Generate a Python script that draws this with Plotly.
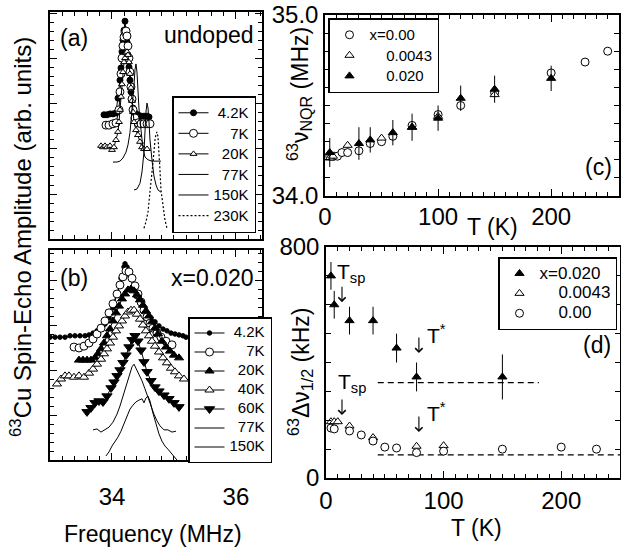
import plotly.graph_objects as go

W, H = 621, 549
FONT = "Liberation Sans, Arial, sans-serif"
NB = "\u00a0"

# ---------------- (a) undoped: 63Cu NQR spectra (frequency MHz, amplitude arb.) ----------------
a42_f = [33.871, 33.919, 33.968, 34.016, 34.065, 34.097, 34.129, 34.145, 34.161, 34.177, 34.194, 34.210, 34.226,
         34.242, 34.258, 34.274, 34.290, 34.306, 34.323, 34.339, 34.371, 34.419, 34.468, 34.516, 34.565, 34.597]
a42_a = [2.76, 2.76, 2.78, 2.78, 2.80, 3.13, 3.53, 3.80, 4.16, 4.42, 4.64, 4.84, 4.64,
         4.38, 4.09, 3.82, 3.53, 3.27, 3.09, 2.91, 2.80, 2.76, 2.73, 2.73, 2.73, 2.71]

a7_f = [33.903, 33.952, 34.016, 34.065, 34.113, 34.129, 34.145, 34.161, 34.177, 34.194, 34.210, 34.226, 34.242,
        34.258, 34.274, 34.290, 34.306, 34.323, 34.339, 34.371, 34.419, 34.468, 34.516, 34.565, 34.613]
a7_a = [2.53, 2.53, 2.56, 2.58, 2.87, 3.27, 3.67, 4.02, 4.29, 4.49, 4.60, 4.62, 4.51,
        4.29, 4.02, 3.71, 3.38, 3.11, 2.87, 2.69, 2.58, 2.56, 2.56, 2.56, 2.56]

a20_f = [33.823, 33.855, 33.887, 33.919, 33.968, 34.000, 34.032, 34.065, 34.097, 34.113, 34.129, 34.145, 34.161,
         34.177, 34.194, 34.210, 34.226, 34.242, 34.258, 34.274, 34.290, 34.306, 34.323, 34.339, 34.355, 34.387,
         34.419, 34.452, 34.484, 34.516, 34.565]
a20_a = [2.07, 2.04, 2.07, 2.04, 2.07, 1.98, 2.04, 2.20, 2.38, 2.60, 2.87, 3.16, 3.44,
         3.71, 3.93, 4.02, 4.13, 4.16, 4.09, 3.93, 3.67, 3.36, 3.07, 2.82, 2.60, 2.42,
         2.31, 2.16, 2.04, 2.00, 2.00]

a77_f = [34.016, 34.081, 34.129, 34.177, 34.226, 34.258, 34.290, 34.323, 34.355, 34.371, 34.387, 34.403, 34.419,
         34.435, 34.468, 34.500, 34.532, 34.581, 34.645, 34.710, 34.790]
a77_a = [1.71, 1.71, 1.73, 1.80, 1.93, 2.09, 2.36, 2.82, 3.42, 3.76, 3.89, 3.71, 3.31,
         2.91, 2.42, 2.02, 1.82, 1.76, 1.73, 1.73, 1.73]

a150_f = [34.355, 34.403, 34.452, 34.484, 34.516, 34.532, 34.548, 34.565, 34.581, 34.597, 34.613, 34.645, 34.677,
          34.710, 34.742, 34.790]
a150_a = [1.09, 1.11, 1.24, 1.49, 1.93, 2.42, 2.82, 3.02, 2.91, 2.60, 2.20, 1.76, 1.40,
          1.20, 1.09, 1.04]

a230_f = [34.516, 34.548, 34.581, 34.597, 34.629, 34.661, 34.677, 34.694, 34.710, 34.726, 34.742, 34.758, 34.774,
          34.790, 34.823, 34.855, 34.887]
a230_a = [0.24, 0.38, 0.60, 0.87, 1.27, 1.69, 1.98, 2.20, 2.33, 2.38, 2.27, 1.98, 1.53,
          1.09, 0.69, 0.42, 0.24]

# ---------------- (b) x = 0.020 spectra ----------------
b42_f = [33.000, 33.081, 33.161, 33.242, 33.323, 33.403, 33.484, 33.565, 33.629, 33.694, 33.758, 33.823, 33.887,
         33.952, 34.016, 34.081, 34.145, 34.194, 34.210, 34.242, 34.290, 34.339, 34.387, 34.435, 34.500, 34.565,
         34.629, 34.694, 34.758, 34.823, 34.887, 34.952, 35.016, 35.081, 35.145, 35.194]
b42_a = [2.73, 2.73, 2.73, 2.73, 2.76, 2.76, 2.76, 2.76, 2.78, 2.82, 2.87, 2.93, 3.02,
         3.16, 3.38, 3.69, 4.04, 4.29, 4.36, 4.29, 4.09, 3.84, 3.64, 3.56, 3.40, 3.27,
         3.16, 3.07, 2.98, 2.91, 2.87, 2.82, 2.80, 2.78, 2.76, 2.73]

b7_f = [33.387, 33.468, 33.548, 33.629, 33.694, 33.758, 33.823, 33.887, 33.952, 34.016, 34.081, 34.129, 34.177,
        34.226, 34.274, 34.323, 34.371, 34.419, 34.468, 34.516, 34.565, 34.613, 34.661, 34.726, 34.790, 34.871,
        34.968]
b7_a = [2.51, 2.49, 2.53, 2.60, 2.69, 2.80, 2.93, 3.09, 3.27, 3.47, 3.69, 3.89, 4.07,
        4.20, 4.18, 4.04, 3.87, 3.69, 3.51, 3.33, 3.18, 3.04, 2.93, 2.82, 2.73, 2.64,
        2.56]

b20_f = [33.468, 33.532, 33.597, 33.661, 33.726, 33.774, 33.823, 33.871, 33.919, 33.968, 34.016, 34.065, 34.113,
         34.161, 34.210, 34.258, 34.306, 34.355, 34.403, 34.452, 34.500, 34.548, 34.597, 34.645, 34.694, 34.742,
         34.806, 34.871, 34.935, 35.000, 35.081]
b20_a = [2.22, 2.22, 2.22, 2.22, 2.27, 2.36, 2.47, 2.60, 2.76, 2.91, 3.09, 3.27, 3.42,
         3.58, 3.69, 3.78, 3.80, 3.76, 3.67, 3.56, 3.44, 3.31, 3.20, 3.07, 2.93, 2.80,
         2.64, 2.51, 2.42, 2.33, 2.27]

b40_f = [33.113, 33.177, 33.242, 33.306, 33.387, 33.468, 33.548, 33.629, 33.694, 33.758, 33.823, 33.871, 33.919,
         33.968, 34.016, 34.065, 34.113, 34.161, 34.210, 34.258, 34.306, 34.355, 34.403, 34.452, 34.500, 34.548,
         34.597, 34.645, 34.694, 34.758, 34.823, 34.887, 34.952, 35.016, 35.081, 35.161]
b40_a = [1.69, 1.80, 1.87, 1.87, 1.84, 1.87, 1.84, 1.93, 2.02, 2.13, 2.24, 2.36, 2.47,
         2.60, 2.73, 2.87, 2.98, 3.09, 3.20, 3.29, 3.33, 3.33, 3.24, 3.13, 3.00, 2.87,
         2.76, 2.64, 2.53, 2.40, 2.27, 2.16, 2.04, 1.96, 1.87, 1.80]

b60_f = [33.597, 33.661, 33.726, 33.790, 33.855, 33.919, 33.984, 34.032, 34.081, 34.129, 34.177, 34.226, 34.274,
         34.323, 34.371, 34.419, 34.468, 34.516, 34.565, 34.629, 34.694, 34.758, 34.839, 34.919, 35.000, 35.081]
b60_a = [1.07, 1.16, 1.27, 1.31, 1.29, 1.42, 1.60, 1.73, 1.87, 2.00, 2.16, 2.33, 2.51,
         2.67, 2.76, 2.64, 2.44, 2.18, 1.96, 1.76, 1.62, 1.53, 1.44, 1.36, 1.27, 1.18]

b77_f = [33.694, 33.758, 33.823, 33.887, 33.952, 34.016, 34.081, 34.129, 34.177, 34.226, 34.274, 34.323, 34.355,
         34.387, 34.435, 34.484, 34.532, 34.581, 34.629, 34.677, 34.726, 34.774, 34.839, 34.903, 34.968, 35.032]
b77_a = [0.67, 0.69, 0.62, 0.67, 0.73, 0.84, 1.02, 1.20, 1.42, 1.67, 1.89, 2.07, 2.13,
         2.04, 1.91, 1.76, 1.58, 1.38, 1.20, 1.02, 0.87, 0.76, 0.67, 0.67, 0.62, 0.64]

b150_f = [33.903, 33.952, 34.000, 34.048, 34.097, 34.145, 34.194, 34.242, 34.290, 34.339, 34.387, 34.435, 34.484,
          34.516, 34.548, 34.581, 34.613, 34.661, 34.710, 34.758, 34.806, 34.855, 34.903, 34.952, 35.000, 35.048]
b150_a = [0.09, 0.18, 0.31, 0.40, 0.51, 0.64, 0.80, 1.00, 1.13, 1.22, 1.29, 1.33, 1.36,
          1.27, 1.38, 1.42, 1.31, 1.04, 0.78, 0.58, 0.42, 0.31, 0.24, 0.16, 0.07, 0.00]

# ---------------- (c) NQR frequency vs T ----------------
c_T_x000 = [4.2, 6, 8, 11, 15, 20, 30, 40, 50, 60, 77, 100, 120, 150, 200, 230, 250]
c_nu_x000 = [34.22, 34.22, 34.22, 34.22, 34.24, 34.24, 34.25, 34.29, 34.30, 34.33, 34.39, 34.45, 34.50,
             34.57, 34.68, 34.74, 34.80]
c_T_x0043 = [4.2, 7, 20, 50, 77, 100, 150]
c_nu_x0043 = [34.21, 34.22, 34.28, 34.32, 34.38, 34.44, 34.56]
c_T_x020 = [4.2, 30, 40, 60, 77, 100, 120, 150, 200]
c_nu_x020 = [34.24, 34.29, 34.31, 34.35, 34.38, 34.43, 34.54, 34.59, 34.65]
c_err_x020 = [0.08, 0.09, 0.07, 0.07, 0.075, 0.07, 0.07, 0.075, 0.07]

# ---------------- (d) NQR linewidth vs T (kHz) ----------------
d_T_x020 = [4.2, 7, 20, 40, 60, 77, 150]
d_w_x020 = [700, 600, 545, 545, 450, 350, 350]
d_err_x020 = [48, 48, 48, 48, 50, 50, 78]
d_T_x0043 = [4.2, 7, 10, 20, 40, 77, 100]
d_w_x0043 = [195, 195, 195, 180, 140, 110, 112]
d_T_x000 = [4.2, 7, 20, 30, 40, 50, 60, 77, 100, 150, 200, 230]
d_w_x000 = [173, 170, 163, 149, 128, 107, 104, 88, 93, 100, 107, 100]
d_err_x000 = [0, 0, 0, 0, 0, 0, 0, 0, 0, 0, 12, 10]

# high-temperature plateau guides in (d): level (kHz) and T span
guide_level = [330, 80]
guide_T_from = [44, 44]
guide_T_to = [181, 250]

# spin-freezing (T_sp) and pseudogap (T*) markers in (d): arrow tip (T, kHz)
tsp_T = [13.6, 13.6]
tsp_tip = [609, 218]
tstar_T = [79, 79]
tstar_tip = [433, 159]


def legend_text(label, pad, size):
    return f'<span style="font-size:{size}px">{NB * pad}{label}</span>'


fig = go.Figure()


def add_spectrum(f, a, label, pad, xa, ya, legend, tsize, symbol=None, msize=6, fill="black",
                 dash="solid", lw=1.0):
    mode = "lines+markers" if symbol else "lines"
    marker = dict(symbol=symbol or "circle", size=msize, color=fill,
                  line=dict(color="black", width=1))
    fig.add_trace(go.Scatter(
        x=f, y=a, mode=mode, name=legend_text(label, pad, tsize), xaxis=xa, yaxis=ya,
        legend=legend, marker=marker, line=dict(color="black", width=lw, dash=dash),
        showlegend=True, hoverinfo="skip"))


LA = 15  # legend text size for the spectra panels
# (a)
add_spectrum(a42_f, a42_a, "4.2K", 1, "x", "y", "legend", LA, "circle", 6, "black")
add_spectrum(a7_f, a7_a, "7K", 4, "x", "y", "legend", LA, "circle", 8, "white")
add_spectrum(a20_f, a20_a, "20K", 2, "x", "y", "legend", LA, "triangle-up", 6, "white")
add_spectrum(a77_f, a77_a, "77K", 2, "x", "y", "legend", LA)
add_spectrum(a150_f, a150_a, "150K", 0, "x", "y", "legend", LA)
add_spectrum(a230_f, a230_a, "230K", 0, "x", "y", "legend", LA, dash="2px,2px", lw=1.2)

# (b)
add_spectrum(b42_f, b42_a, "4.2K", 1, "x2", "y2", "legend2", LA, "circle", 4.5, "black")
add_spectrum(b7_f, b7_a, "7K", 4, "x2", "y2", "legend2", LA, "circle", 8, "white")
add_spectrum(b20_f, b20_a, "20K", 2, "x2", "y2", "legend2", LA, "triangle-up", 8, "black")
add_spectrum(b40_f, b40_a, "40K", 2, "x2", "y2", "legend2", LA, "triangle-up", 8, "white")
add_spectrum(b60_f, b60_a, "60K", 2, "x2", "y2", "legend2", LA, "triangle-down", 9, "black")
add_spectrum(b77_f, b77_a, "77K", 2, "x2", "y2", "legend2", LA)
add_spectrum(b150_f, b150_a, "150K", 0, "x2", "y2", "legend2", LA)


def add_points(T, v, label, pad, xa, ya, legend, tsize, symbol, fill, size=8, err=None):
    fig.add_trace(go.Scatter(
        x=T, y=v, mode="markers", name=legend_text(label, pad, tsize), xaxis=xa, yaxis=ya,
        legend=legend, hoverinfo="skip",
        marker=dict(symbol=symbol, size=size, color=fill, line=dict(color="black", width=1)),
        error_y=(dict(type="data", array=err, visible=True, thickness=1, width=0, color="black")
                 if err is not None else None)))


# (c)
add_points(c_T_x000, c_nu_x000, "x=0.00", 0, "x3", "y3", "legend3", 15, "circle", "white", 8)
add_points(c_T_x0043, c_nu_x0043, "0.0043", 4, "x3", "y3", "legend3", 15, "triangle-up", "white", 8)
add_points(c_T_x020, c_nu_x020, "0.020", 4, "x3", "y3", "legend3", 15, "triangle-up", "black", 8,
           err=c_err_x020)

# (d) guides first so symbols sit on top
for lev, t0, t1 in zip(guide_level, guide_T_from, guide_T_to):
    fig.add_trace(go.Scatter(x=[t0, t1], y=[lev, lev], mode="lines", xaxis="x4", yaxis="y4",
                             showlegend=False, hoverinfo="skip",
                             line=dict(color="black", width=1.2, dash="6px,4px")))
add_points(d_T_x020, d_w_x020, "x=0.020", 0, "x4", "y4", "legend4", 17, "triangle-up", "black", 8,
           err=d_err_x020)
add_points(d_T_x0043, d_w_x0043, "0.0043", 4, "x4", "y4", "legend4", 17, "triangle-up", "white", 8)
add_points(d_T_x000, d_w_x000, "0.00", 4, "x4", "y4", "legend4", 17, "circle", "white", 8,
           err=d_err_x000)


def frame(**kw):
    ax = dict(showline=True, linecolor="black", linewidth=1.5, mirror="allticks",
              ticks="inside", tickcolor="black", tickwidth=1, ticklen=7,
              showgrid=False, zeroline=False,
              tickfont=dict(family=FONT, size=24, color="black"))
    ax.update(kw)
    return ax


def px(x):
    return x / W


def py(y):
    return 1 - y / H


freq_minor = dict(ticks="inside", dtick=0.2, tick0=34, ticklen=4, tickcolor="black")
amp_minor = dict(ticks="inside", dtick=0.2, tick0=0, ticklen=4, tickcolor="black")
T_minor = dict(ticks="inside", dtick=10, tick0=0, ticklen=4, tickcolor="black")

fig.update_layout(
    width=W, height=H, margin=dict(l=0, r=0, t=0, b=0, autoexpand=False),
    paper_bgcolor="white", plot_bgcolor="white",
    font=dict(family=FONT, color="black"),
    xaxis=frame(domain=[px(50), px(262)], anchor="y", range=[33.0, 36.42], tick0=34, dtick=2,
                showticklabels=False, minor=freq_minor),
    yaxis=frame(domain=[py(239), py(12)], anchor="x", range=[0, 5.044], tick0=0, dtick=1,
                showticklabels=False, minor=amp_minor),
    xaxis2=frame(domain=[px(50), px(262)], anchor="y2", range=[33.0, 36.42], tick0=34, dtick=2,
                 ticklabelstandoff=14, minor=freq_minor),
    yaxis2=frame(domain=[py(460), py(250)], anchor="x2", range=[0, 4.667], tick0=0, dtick=1,
                 showticklabels=False, minor=amp_minor),
    xaxis3=frame(domain=[px(325), px(619)], anchor="y3", range=[0, 260], tick0=0, dtick=100,
                 ticklabelstandoff=-2, minor=T_minor),
    yaxis3=frame(domain=[py(196), py(15)], anchor="x3", range=[34.0, 35.0], tickmode="array",
                 tickvals=[34.0, 35.0], ticktext=["34.0", "35.0"], ticklen=5,
                 minor=dict(ticks="inside", tickmode="linear", tick0=34.0, dtick=0.1, ticklen=5,
                            tickcolor="black")),
    xaxis4=frame(domain=[px(326), px(620)], anchor="y4", range=[0, 250], tick0=0, dtick=100,
                 ticklabelstandoff=0, minor=T_minor),
    yaxis4=frame(domain=[py(478), py(247)], anchor="x4", range=[0, 800], tickmode="array",
                 tickvals=[0, 800], ticktext=["0", "800"], ticklen=5,
                 minor=dict(ticks="inside", tickmode="linear", tick0=0, dtick=100, ticklen=5,
                            tickcolor="black")),
    legend=dict(x=px(172), y=py(96), xanchor="left", yanchor="top", bgcolor="white",
                bordercolor="black", borderwidth=1.5, font=dict(family=FONT, size=13.5),
                itemwidth=30, traceorder="normal"),
    legend2=dict(x=px(188), y=py(317), xanchor="left", yanchor="top", bgcolor="white",
                 bordercolor="black", borderwidth=1.5, font=dict(family=FONT, size=10),
                 itemwidth=30, traceorder="normal"),
    legend3=dict(x=px(328), y=py(18), xanchor="left", yanchor="top", bgcolor="white",
                 bordercolor="black", borderwidth=1.5, font=dict(family=FONT, size=13.5),
                 itemwidth=30, traceorder="normal"),
    legend4=dict(x=px(498), y=py(257), xanchor="left", yanchor="top", bgcolor="white",
                 bordercolor="black", borderwidth=1.5, font=dict(family=FONT, size=13),
                 itemwidth=30, traceorder="normal"),
)

ann = []


def note(text, x, y, size, xanchor="center", yanchor="middle", angle=0, xref="paper", yref="paper"):
    ann.append(dict(text=text, x=x, y=y, xref=xref, yref=yref, xanchor=xanchor, yanchor=yanchor,
                    showarrow=False, textangle=angle, font=dict(family=FONT, size=size, color="black")))


# panel tags and titles
note("(a)", px(58), py(38), 23, xanchor="left")
note("undoped", px(256), py(35), 23, xanchor="right")
note("(b)", px(58), py(278), 23, xanchor="left")
note("x=0.020", px(256), py(278), 23, xanchor="right")
note("(c)", px(598), py(167), 23)
note("(d)", px(597), py(345), 23)

# axis titles
note("<sup>63</sup>Cu Spin-Echo Amplitude (arb. units)", px(21), py(237), 24, angle=-90)
note("Frequency (MHz)", px(153), 0, 23, yanchor="bottom")
note("<sup>63</sup>ν<sub>NQR</sub> (MHz)", px(299), py(94), 23, angle=-90)
note("T (K)", px(492), py(227), 23)
note("<sup>63</sup>Δν<sub>1/2</sub> (kHz)", px(300), py(372), 23, angle=-90)
note("T (K)", px(476), py(513), 23, yanchor="top")

# characteristic temperatures in (d)
note("T<sub>sp</sub>", 7.7, 709, 21, xanchor="left", xref="x4", yref="y4")
note("T<sub>sp</sub>", 8.5, 329, 21, xanchor="left", xref="x4", yref="y4")
note("T<sup>*</sup>", 84, 498, 21, xanchor="left", xref="x4", yref="y4")
note("T<sup>*</sup>", 84, 228, 21, xanchor="left", xref="x4", yref="y4")
for t, tip in list(zip(tsp_T, tsp_tip)) + list(zip(tstar_T, tstar_tip)):
    ann.append(dict(text="", x=t, y=tip, xref="x4", yref="y4", showarrow=True, ax=0, ay=-17,
                    arrowhead=4, arrowsize=1.3, arrowwidth=1.1, arrowcolor="black", standoff=0))

fig.update_layout(annotations=ann)

fig.write_html("out.html")
